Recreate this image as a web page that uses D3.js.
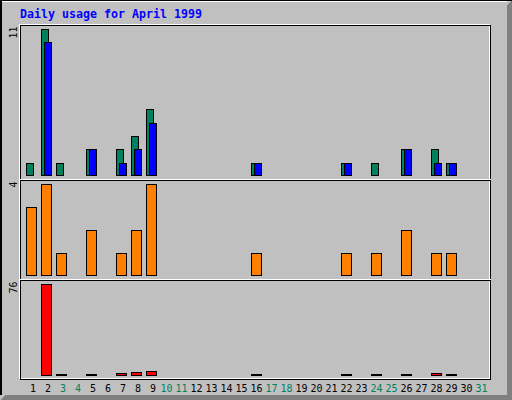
<!DOCTYPE html>
<html>
<head>
<meta charset="utf-8">
<script src="https://cdn.jsdelivr.net/npm/d3@7"></script>
<style>
  body { margin: 0; background: #fff; }
  svg { display: block; }
  text { font-family: "DejaVu Sans Mono", "Liberation Mono", monospace; }
</style>
</head>
<body>
<div id="chart"></div>
<script>
// data
var days = [1,2,3,4,5,6,7,8,9,10,11,12,13,14,15,16,17,18,19,20,21,22,23,24,25,26,27,28,29,30,31];
var weekendDays = [3,4,10,11,17,18,24,25,31];
var hits   = [1,11,1,0,2,0,2,3,5,0,0,0,0,0,0,1,0,0,0,0,0,1,0,1,0,2,0,2,1,0,0];
var files  = [0,10,0,0,2,0,1,2,4,0,0,0,0,0,0,1,0,0,0,0,0,1,0,0,0,2,0,1,1,0,0];
var sites  = [3,4,1,0,2,0,1,2,4,0,0,0,0,0,0,1,0,0,0,0,0,1,0,1,0,2,0,1,1,0,0];
var kbytes = [0,76,1.5,0,1.5,0,2.5,3.3,4.1,0,0,0,0,0,0,1.5,0,0,0,0,0,1.5,0,1.5,0,1.5,0,2.5,1.5,0,0];
var maxLabels = [11, 4, 76];
var title = "Daily usage for April 1999";

var W = 512, H = 400;
var grey = "#c0c0c0", dkgrey = "#808080", green = "#00805c",
    blue = "#0000ff", orange = "#ff8000", red = "#ff0000";

var svg = d3.select("#chart").append("svg")
    .attr("width", W)
    .attr("height", H)
    .attr("shape-rendering", "crispEdges");

// frame
svg.append("rect").attr("width", W).attr("height", H).attr("fill", grey);
svg.append("polygon")
    .attr("points", "512,0 512,400 0,400 5,395 507,395 507,5")
    .attr("fill", dkgrey);
svg.append("rect").attr("x", 2).attr("y", 1).attr("width", 505).attr("height", 1).attr("fill", "#fff");
svg.append("rect").attr("x", 0).attr("y", 0).attr("width", W).attr("height", 1).attr("fill", "#000");
svg.append("rect").attr("x", 0).attr("y", 0).attr("width", 2).attr("height", 395).attr("fill", "#000");

svg.append("text")
    .attr("x", 20).attr("y", 18)
    .attr("font-size", "11.6px")
    .attr("font-weight", "bold")
    .attr("fill", blue)
    .attr("textLength", 182)
    .text(title);

// plot box
svg.append("rect").attr("x", 19.5).attr("y", 24.5).attr("width", 470).attr("height", 354)
    .attr("fill", "none").attr("stroke", "#fff");
svg.append("rect").attr("x", 20.5).attr("y", 25.5).attr("width", 470).attr("height", 354)
    .attr("fill", "none").attr("stroke", "#000");
[179, 279].forEach(function (y) {
    svg.append("rect").attr("x", 20).attr("y", y).attr("width", 471).attr("height", 1).attr("fill", "#fff");
    svg.append("rect").attr("x", 20).attr("y", y + 1).attr("width", 471).attr("height", 1).attr("fill", "#000");
});

var xScale = d3.scaleLinear().domain([1, 31]).range([26, 476]);

var panels = [
    { top: 25,  base: 176, topY: 29,  max: maxLabels[0] },
    { top: 180, base: 276, topY: 184, max: maxLabels[1] },
    { top: 280, base: 376, topY: 284, max: maxLabels[2] }
];
panels.forEach(function (p) {
    p.y = d3.scaleLinear().domain([0, p.max]).range([p.base, p.topY]);
});

// gd style bar: black outline, colour inside
function bar(g, x, w, v, p, color) {
    if (!(v > 0)) return;
    var yTop = Math.round(p.y(v));
    if (yTop > p.base - 2) yTop = p.base - 2;
    var h = p.base - yTop;
    g.append("rect").attr("x", x).attr("y", yTop).attr("width", w).attr("height", h).attr("fill", "#000");
    if (h > 2) {
        g.append("rect").attr("x", x + 1).attr("y", yTop + 1).attr("width", w - 2).attr("height", h - 2).attr("fill", color);
    }
}

var gBars = svg.append("g");
days.forEach(function (d, i) {
    var x1 = xScale(d);
    bar(gBars, x1, 8, hits[i], panels[0], green);
    bar(gBars, x1 + 3, 8, files[i], panels[0], blue);
    bar(gBars, x1, 11, sites[i], panels[1], orange);
    bar(gBars, x1, 11, kbytes[i], panels[2], red);
});

// max labels, written upward
panels.forEach(function (p) {
    svg.append("text")
        .attr("transform", "translate(17," + (p.top + 1.5) + ") rotate(-90)")
        .attr("text-anchor", "end")
        .attr("font-size", "10px")
        .attr("fill", "#000")
        .text(p.max);
});

// day labels
svg.append("g").selectAll("text")
    .data(days)
    .join("text")
    .attr("x", d => xScale(d) + (d < 10 ? 7 : 5.5))
    .attr("y", 392)
    .attr("text-anchor", "middle")
    .attr("font-size", "10px")
    .attr("fill", d => weekendDays.indexOf(d) >= 0 ? green : "#000")
    .text(d => d);
</script>
</body>
</html>
